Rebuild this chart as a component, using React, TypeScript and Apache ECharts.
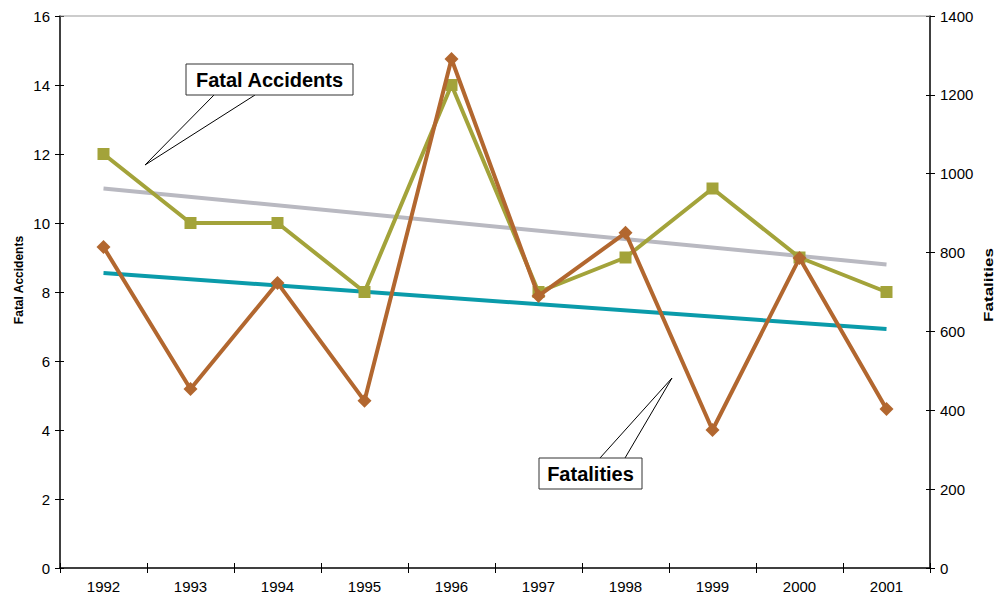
import React, { useEffect, useRef } from "react";
import * as echarts from "echarts";

const years = ["1992", "1993", "1994", "1995", "1996", "1997", "1998", "1999", "2000", "2001"];
const fatalAccidents = [12, 10, 10, 8, 14, 8, 9, 11, 9, 8];
const fatalities = [814, 454, 723, 424, 1291, 690, 850, 350, 786, 403];
const accidentsTrend = [11.0, null, null, null, null, null, null, null, null, 8.8];
const fatalitiesTrend = [748, null, null, null, null, null, null, null, null, 606];

const FONT = "'Liberation Sans', Arial, sans-serif";

export default function App() {
  const ref = useRef<HTMLDivElement>(null);
  useEffect(() => {
    const chart = echarts.init(ref.current!, null, { renderer: "svg" });
    const labelStyle = { color: "#000", fontSize: 15, fontFamily: FONT };
    chart.setOption({
      animation: false,
      backgroundColor: "#fff",
      grid: { left: 60, right: 70, top: 16, bottom: 32 },
      xAxis: [
        {
          type: "category",
          data: years,
          boundaryGap: true,
          axisLine: { lineStyle: { color: "#000", width: 1.5 } },
          axisTick: { show: true, length: 5, lineStyle: { color: "#000" } },
          axisLabel: { ...labelStyle, margin: 11 },
          splitLine: { show: false },
        },
        {
          type: "category",
          data: years,
          position: "bottom",
          boundaryGap: true,
          axisLine: { show: false },
          axisTick: { show: true, inside: true, length: 5, lineStyle: { color: "#000" } },
          axisLabel: { show: false },
        },
      ],
      yAxis: [
        {
          type: "value",
          min: 0,
          max: 16,
          interval: 2,
          position: "left",
          axisLine: { show: true, lineStyle: { color: "#000", width: 1.5 } },
          axisTick: { show: true, length: 5, lineStyle: { color: "#000" } },
          axisLabel: { ...labelStyle, margin: 10 },
          splitLine: { show: false },
        },
        {
          type: "value",
          min: 0,
          max: 1400,
          interval: 200,
          position: "right",
          axisLine: { show: true, lineStyle: { color: "#000", width: 1.5 } },
          axisTick: { show: true, length: 5, lineStyle: { color: "#000" } },
          axisLabel: { ...labelStyle, margin: 10, formatter: (v: number) => String(v) },
          splitLine: { show: false },
        },
        {
          type: "value",
          min: 0,
          max: 16,
          interval: 2,
          position: "left",
          axisLine: { show: false },
          axisTick: { show: true, inside: true, length: 4, lineStyle: { color: "#000" } },
          axisLabel: { show: false },
          splitLine: { show: false },
        },
        {
          type: "value",
          min: 0,
          max: 1400,
          interval: 200,
          position: "right",
          axisLine: { show: false },
          axisTick: { show: true, inside: true, length: 4, lineStyle: { color: "#000" } },
          axisLabel: { show: false },
          splitLine: { show: false },
        },
      ],
      graphic: [
        { type: "line", shape: { x1: 60, y1: 16, x2: 930, y2: 16 }, style: { stroke: "#999", lineWidth: 1 }, z: 1 },
        {
          type: "text",
          x: 19,
          y: 280,
          rotation: Math.PI / 2,
          style: { text: "Fatal Accidents", fontSize: 12, fontWeight: "bold", fontFamily: FONT, fill: "#000", align: "center", verticalAlign: "middle" },
        },
        {
          type: "text",
          x: 989,
          y: 285,
          rotation: Math.PI / 2,
          scaleX: 1.42,
          style: { text: "Fatalities", fontSize: 12, fontWeight: "bold", fontFamily: FONT, fill: "#000", align: "center", verticalAlign: "middle" },
        },
        { type: "line", shape: { x1: 214, y1: 95, x2: 145, y2: 165 }, style: { stroke: "#000", lineWidth: 1 }, z: 10 },
        { type: "line", shape: { x1: 255, y1: 95, x2: 145, y2: 165 }, style: { stroke: "#000", lineWidth: 1 }, z: 10 },
        { type: "rect", shape: { x: 186, y: 64, width: 167, height: 31 }, style: { fill: "#fff", stroke: "#333", lineWidth: 1 }, z: 11 },
        {
          type: "text",
          x: 269.5,
          y: 79.5,
          style: { text: "Fatal Accidents", fontSize: 20, fontWeight: "bold", fontFamily: FONT, fill: "#000", align: "center", verticalAlign: "middle" },
          z: 12,
        },
        { type: "line", shape: { x1: 600, y1: 458, x2: 672, y2: 378 }, style: { stroke: "#000", lineWidth: 1 }, z: 10 },
        { type: "line", shape: { x1: 625, y1: 458, x2: 672, y2: 378 }, style: { stroke: "#000", lineWidth: 1 }, z: 10 },
        { type: "rect", shape: { x: 539, y: 458, width: 103, height: 31 }, style: { fill: "#fff", stroke: "#333", lineWidth: 1 }, z: 11 },
        {
          type: "text",
          x: 590.5,
          y: 473.5,
          style: { text: "Fatalities", fontSize: 20, fontWeight: "bold", fontFamily: FONT, fill: "#000", align: "center", verticalAlign: "middle" },
          z: 12,
        },
      ],
      series: [
        {
          name: "Fatal Accidents Trend",
          type: "line",
          yAxisIndex: 0,
          data: accidentsTrend,
          connectNulls: true,
          showSymbol: false,
          symbol: "none",
          lineStyle: { color: "#B9B9C1", width: 4 },
          z: 2,
        },
        {
          name: "Fatalities Trend",
          type: "line",
          yAxisIndex: 1,
          data: fatalitiesTrend,
          connectNulls: true,
          showSymbol: false,
          symbol: "none",
          lineStyle: { color: "#0A9BAA", width: 4 },
          z: 2,
        },
        {
          name: "Fatal Accidents",
          type: "line",
          yAxisIndex: 0,
          data: fatalAccidents,
          symbol: "rect",
          symbolSize: 12,
          itemStyle: { color: "#A3A33A" },
          lineStyle: { color: "#A3A33A", width: 4 },
          z: 3,
        },
        {
          name: "Fatalities",
          type: "line",
          yAxisIndex: 1,
          data: fatalities,
          symbol: "diamond",
          symbolSize: 14,
          itemStyle: { color: "#B2672F" },
          lineStyle: { color: "#B2672F", width: 4 },
          z: 4,
        },
      ],
    });
    return () => chart.dispose();
  }, []);
  return <div ref={ref} style={{ width: 1000, height: 600, position: "absolute", left: 0, top: 0 }} />;
}
